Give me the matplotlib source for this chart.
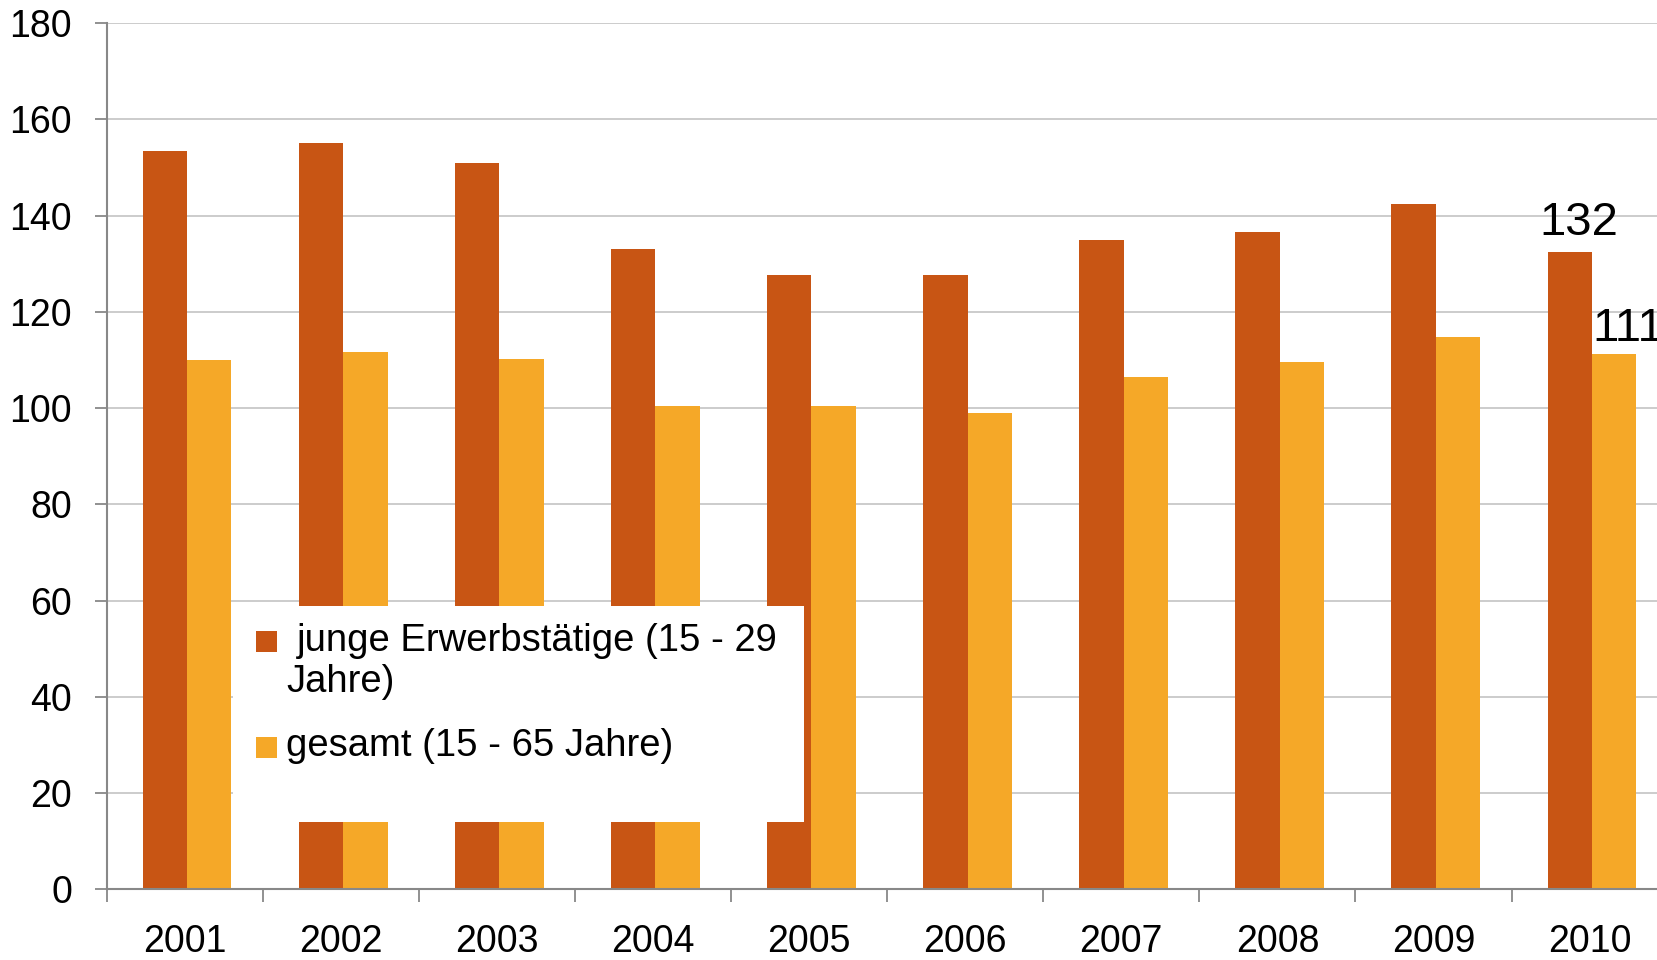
import matplotlib.pyplot as plt
from matplotlib.patches import Rectangle
import numpy as np

plt.rcParams['font.family'] = ['Liberation Sans', 'DejaVu Sans']

years = ['2001', '2002', '2003', '2004', '2005', '2006', '2007', '2008', '2009', '2010']
junge = [153.4, 155.2, 151.0, 133.0, 127.7, 127.7, 134.9, 136.5, 142.4, 132.5]
gesamt = [109.9, 111.6, 110.1, 100.4, 100.4, 98.9, 106.4, 109.5, 114.7, 111.2]
label_junge = 'junge Erwerbstätige (15 - 29'
label_junge2 = 'Jahre)'
label_gesamt = 'gesamt (15 - 65 Jahre)'

c_dark = '#C85514'
c_light = '#F5A828'

fig = plt.figure(figsize=(16.57, 9.6), dpi=100)
ax = fig.add_axes([0.0644, 0.0738, 0.942, 0.902])

x = np.arange(len(years))
w = 0.284
ax.bar(x - w / 2 + 0.015, junge, w, color=c_dark, zorder=2)
ax.bar(x + w / 2 + 0.015, gesamt, w, color=c_light, zorder=2)

ax.set_xlim(-0.5, len(years) - 0.5)
ax.set_ylim(0, 180)
ax.set_yticks(np.arange(0, 181, 20))
ax.yaxis.grid(True, color='#c8c8c8', linewidth=1.3, zorder=0)
ax.set_axisbelow(True)

ax.set_xticks(np.arange(-0.5, len(years), 1))
ax.set_xticklabels([])
ax.set_xticks(x, minor=True)
ax.set_xticklabels(years, minor=True)
ax.tick_params(axis='x', which='major', direction='out', length=9, width=1.3, color='#888888')
ax.tick_params(axis='x', which='minor', length=0, pad=25, labelsize=27)
ax.tick_params(axis='y', direction='out', length=9, width=1.3, color='#888888', pad=16, labelsize=27)

for s in ['top', 'right']:
    ax.spines[s].set_visible(False)
for s in ['left', 'bottom']:
    ax.spines[s].set_color('#888888')
    ax.spines[s].set_linewidth(1.5)

# value labels for 2010
ax.annotate(f'{junge[-1]:.0f}', (x[-1] - w / 2, junge[-1]), xytext=(8, 5),
            textcoords='offset points', ha='center', va='bottom', fontsize=34)
ax.annotate(f'{gesamt[-1]:.0f}', (x[-1] + w / 2, gesamt[-1]), xytext=(12, 2),
            textcoords='offset points', ha='center', va='bottom', fontsize=34)

# legend box covering bars
ax.add_patch(Rectangle((0.0806, 0.078), 0.366, 0.249, transform=ax.transAxes,
                       facecolor='white', edgecolor='none', zorder=5))
ax.add_patch(Rectangle((0.0955, 0.2735), 0.0135, 0.0244, transform=ax.transAxes,
                       facecolor=c_dark, edgecolor='none', zorder=6))
ax.add_patch(Rectangle((0.0955, 0.1514), 0.0135, 0.0244, transform=ax.transAxes,
                       facecolor=c_light, edgecolor='none', zorder=6))
ax.text(0.1219, 0.287, label_junge, transform=ax.transAxes, fontsize=27.5,
        va='center', ha='left', zorder=7)
ax.text(0.1151, 0.239, label_junge2, transform=ax.transAxes, fontsize=27.5,
        va='center', ha='left', zorder=7)
ax.text(0.1151, 0.165, label_gesamt, transform=ax.transAxes, fontsize=27.5,
        va='center', ha='left', zorder=7)

fig.savefig('out.png', dpi=100)
